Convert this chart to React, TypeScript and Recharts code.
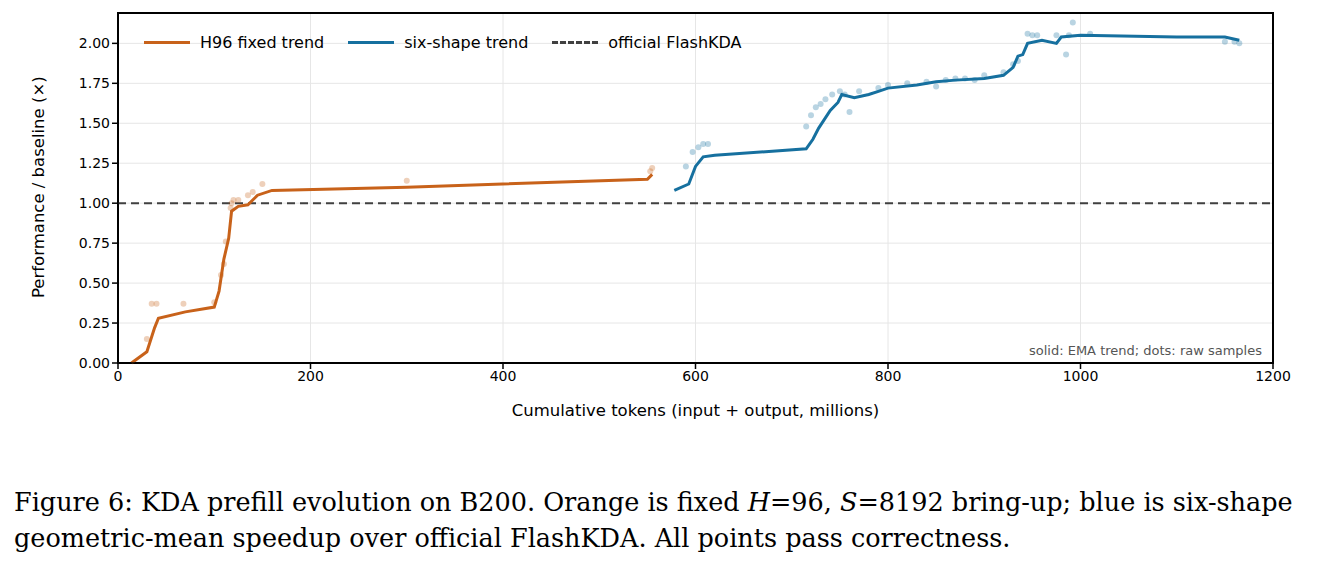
import { ComposedChart, Line, Scatter, XAxis, YAxis, CartesianGrid, ReferenceLine } from "recharts";

const h96Trend = [
  { x: 14, y: 0.0 }, { x: 30, y: 0.07 }, { x: 38, y: 0.22 }, { x: 42, y: 0.28 }, { x: 70, y: 0.32 },
  { x: 100, y: 0.35 }, { x: 105, y: 0.45 }, { x: 110, y: 0.65 }, { x: 115, y: 0.78 }, { x: 118, y: 0.95 },
  { x: 125, y: 0.98 }, { x: 135, y: 0.99 }, { x: 145, y: 1.05 }, { x: 160, y: 1.08 }, { x: 300, y: 1.1 },
  { x: 550, y: 1.15 }, { x: 555, y: 1.18 },
];
const h96Dots = [
  { x: 30, y: 0.15 }, { x: 35, y: 0.37 }, { x: 40, y: 0.37 }, { x: 68, y: 0.37 }, { x: 100, y: 0.38 },
  { x: 107, y: 0.55 }, { x: 110, y: 0.62 }, { x: 112, y: 0.76 }, { x: 117, y: 0.97 }, { x: 118, y: 1.0 },
  { x: 120, y: 1.02 }, { x: 125, y: 1.02 }, { x: 135, y: 1.05 }, { x: 140, y: 1.07 }, { x: 150, y: 1.12 },
  { x: 300, y: 1.14 }, { x: 553, y: 1.2 }, { x: 555, y: 1.22 },
];
const sixTrend = [
  { x: 578, y: 1.08 }, { x: 593, y: 1.12 }, { x: 600, y: 1.23 }, { x: 608, y: 1.29 }, { x: 620, y: 1.3 },
  { x: 715, y: 1.34 }, { x: 722, y: 1.4 }, { x: 728, y: 1.47 }, { x: 740, y: 1.58 }, { x: 748, y: 1.63 },
  { x: 752, y: 1.68 }, { x: 765, y: 1.66 }, { x: 780, y: 1.68 }, { x: 790, y: 1.7 }, { x: 800, y: 1.72 },
  { x: 830, y: 1.74 }, { x: 850, y: 1.76 }, { x: 870, y: 1.77 }, { x: 900, y: 1.78 }, { x: 920, y: 1.8 },
  { x: 930, y: 1.85 }, { x: 935, y: 1.92 }, { x: 940, y: 1.93 }, { x: 945, y: 2.0 }, { x: 960, y: 2.02 },
  { x: 975, y: 2.0 }, { x: 980, y: 2.04 }, { x: 1000, y: 2.05 }, { x: 1100, y: 2.04 }, { x: 1150, y: 2.04 },
  { x: 1165, y: 2.02 },
];
const sixDots = [
  { x: 590, y: 1.23 }, { x: 597, y: 1.32 }, { x: 603, y: 1.35 }, { x: 608, y: 1.37 }, { x: 613, y: 1.37 },
  { x: 715, y: 1.48 }, { x: 720, y: 1.55 }, { x: 725, y: 1.6 }, { x: 730, y: 1.62 }, { x: 735, y: 1.65 },
  { x: 742, y: 1.68 }, { x: 750, y: 1.7 }, { x: 755, y: 1.68 }, { x: 760, y: 1.57 }, { x: 770, y: 1.7 },
  { x: 790, y: 1.72 }, { x: 800, y: 1.74 }, { x: 820, y: 1.75 }, { x: 840, y: 1.76 }, { x: 850, y: 1.73 },
  { x: 860, y: 1.77 }, { x: 870, y: 1.78 }, { x: 880, y: 1.78 }, { x: 890, y: 1.77 }, { x: 900, y: 1.8 },
  { x: 920, y: 1.82 }, { x: 930, y: 1.87 }, { x: 935, y: 1.89 }, { x: 945, y: 2.06 }, { x: 950, y: 2.05 },
  { x: 955, y: 2.05 }, { x: 975, y: 2.05 }, { x: 985, y: 1.93 }, { x: 988, y: 2.05 }, { x: 992, y: 2.13 },
  { x: 1010, y: 2.06 }, { x: 1150, y: 2.01 }, { x: 1160, y: 2.01 }, { x: 1165, y: 2.0 },
];
const xTicks = [0, 200, 400, 600, 800, 1000, 1200];
const yTicks = [0, 0.25, 0.5, 0.75, 1, 1.25, 1.5, 1.75, 2];

const ORANGE = "#c8621a";
const BLUE = "#16709f";
const sans = "'DejaVu Sans', sans-serif";

export default function App() {
  return (
    <div style={{ position: "relative", width: 1313, height: 550, fontFamily: sans }}>
      <ComposedChart width={1290} height={420} margin={{ top: 5, right: 25, left: 0, bottom: 15 }}>
        <CartesianGrid stroke="#e6e6e6" />
        <XAxis type="number" dataKey="x" domain={[0, 1200]} ticks={xTicks} height={50}
          tick={{ fontSize: 14, fill: "#000" }} stroke="#000" strokeWidth={1.5}
          label={{ value: "Cumulative tokens (input + output, millions)", position: "insideBottom", offset: -3, fontSize: 16.5, fill: "#000" }} />
        <YAxis type="number" dataKey="y" domain={[0, 2.19]} ticks={yTicks} width={110}
          tickFormatter={(v) => v.toFixed(2)} tick={{ fontSize: 14, fill: "#000" }} stroke="#000" strokeWidth={1.5}
          label={{ value: "Performance / baseline (×)", angle: -90, position: "insideLeft", offset: 30, dy: 110, fontSize: 16.5, fill: "#000" }} />
        <ReferenceLine y={1} stroke="#404040" strokeWidth={2} strokeDasharray="8 5" />
        <Scatter data={h96Dots} fill={ORANGE} shape={(p: any) => <circle cx={p.cx} cy={p.cy} r={3} fill={ORANGE} fillOpacity={0.3} />} isAnimationActive={false} />
        <Scatter data={sixDots} fill={BLUE} shape={(p: any) => <circle cx={p.cx} cy={p.cy} r={3} fill={BLUE} fillOpacity={0.3} />} isAnimationActive={false} />
        <Line data={h96Trend} dataKey="y" stroke={ORANGE} strokeWidth={3} dot={false} isAnimationActive={false} />
        <Line data={sixTrend} dataKey="y" stroke={BLUE} strokeWidth={3} dot={false} isAnimationActive={false} />
        <rect x={110} y={5} width={1155} height={350} fill="none" stroke="#000" strokeWidth={2} />
      </ComposedChart>
      <div style={{ position: "absolute", left: 136, top: 25, display: "flex", gap: 24, fontSize: 16, alignItems: "center" }}>
        {[["H96 fixed trend", ORANGE, "solid"], ["six-shape trend", BLUE, "solid"], ["official FlashKDA", "#404040", "dashed"]].map(([t, c, s]) => (
          <span key={t} style={{ display: "flex", alignItems: "center", gap: 10 }}>
            <span style={{ width: 46, borderTop: `3px ${s} ${c}` }} />{t}
          </span>
        ))}
      </div>
      <div style={{ position: "absolute", right: 59, top: 335, fontSize: 13, color: "#555" }}>solid: EMA trend; dots: raw samples</div>
      <div style={{ position: "absolute", left: 6, top: 476, fontFamily: "'DejaVu Serif', serif", fontSize: 25.5, lineHeight: "36px", whiteSpace: "nowrap" }}>
        Figure 6: KDA prefill evolution on B200. Orange is fixed <i>H</i>=96, <i>S</i>=8192 bring-up; blue is six-shape<br />
        geometric-mean speedup over official FlashKDA. All points pass correctness.
      </div>
    </div>
  );
}
